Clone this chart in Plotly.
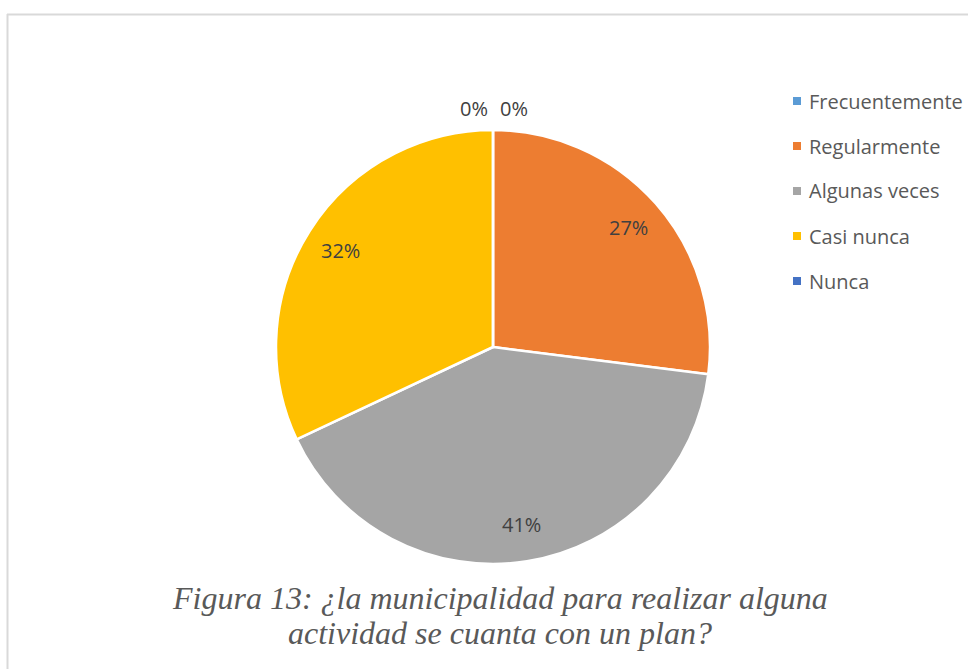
import math
import plotly.graph_objects as go

# Survey answers (percentage of respondents)
categories = ["Frecuentemente", "Regularmente", "Algunas veces", "Casi nunca", "Nunca"]
values = [0, 27, 41, 32, 0]
colors = ["#5B9BD5", "#ED7D31", "#A5A5A5", "#FFC000", "#4472C4"]
caption_lines = ["Figura 13: ¿la municipalidad para realizar alguna",
                 "actividad se cuanta con un plan?"]

W, H = 968, 669
CX, CY, R = 493, 347, 217  # pie centre and radius in pixels

fig = go.Figure()
fig.add_trace(go.Pie(
    labels=categories,
    values=values,
    sort=False,
    direction="clockwise",
    rotation=0,
    marker=dict(colors=colors, line=dict(color="white", width=2.5)),
    textinfo="none",
    hoverinfo="label+percent",
    showlegend=False,
    domain=dict(x=[(CX - R) / W, (CX + R) / W], y=[1 - (CY + R) / H, 1 - (CY - R) / H]),
))

annotations = []
shapes = []

# Percentage labels placed along each slice's mid-angle
total = sum(values)
cum = 0
for i, v in enumerate(values):
    start = cum / total * 360
    cum += v
    end = cum / total * 360
    pct = round(v / total * 100)
    if v > 0:
        theta = math.radians((start + end) / 2)
        k = 0.83
        shift = 0
    else:
        theta = math.radians(start)
        k = 1.10
        shift = 21 if start < 180 else -19
    px = CX + R * k * math.sin(theta)
    py = CY - R * k * math.cos(theta)
    annotations.append(dict(
        x=px / W, y=1 - py / H, xref="paper", yref="paper",
        text=f"{pct}%", showarrow=False, xshift=shift,
        font=dict(family="Open Sans", size=20, color="#404040"),
        xanchor="center", yanchor="middle",
    ))

# Legend entries
for i, (name, col) in enumerate(zip(categories, colors)):
    ly = 101 + 45 * i
    annotations.append(dict(
        x=807 / W, y=1 - ly / H, xref="paper", yref="paper",
        text=name, showarrow=False, xanchor="left", yanchor="middle",
        font=dict(family="Open Sans", size=20, color="#595959"),
    ))
    shapes.append(dict(
        type="rect", xref="paper", yref="paper",
        x0=793 / W, x1=801 / W, y0=1 - (ly + 4) / H, y1=1 - (ly - 4) / H,
        fillcolor=col, line=dict(width=0),
    ))

# Caption, two centred lines
for j, line in enumerate(caption_lines):
    annotations.append(dict(
        x=500 / W, y=1 - (598 + 35 * j) / H, xref="paper", yref="paper",
        text=f"<i>{line}</i>", showarrow=False, xanchor="center", yanchor="middle",
        font=dict(family="Liberation Serif", size=32, color="#595959"),
    ))

# Chart frame (top and left edges)
shapes.append(dict(type="line", xref="paper", yref="paper",
                   x0=7 / W, x1=1, y0=1 - 14.5 / H, y1=1 - 14.5 / H,
                   line=dict(color="#D9D9D9", width=2)))
shapes.append(dict(type="line", xref="paper", yref="paper",
                   x0=7.5 / W, x1=7.5 / W, y0=0, y1=1 - 14 / H,
                   line=dict(color="#D9D9D9", width=2)))

fig.update_layout(
    width=W, height=H,
    margin=dict(l=0, r=0, t=0, b=0),
    paper_bgcolor="white", plot_bgcolor="white",
    annotations=annotations, shapes=shapes,
)

fig.write_html("out.html")
